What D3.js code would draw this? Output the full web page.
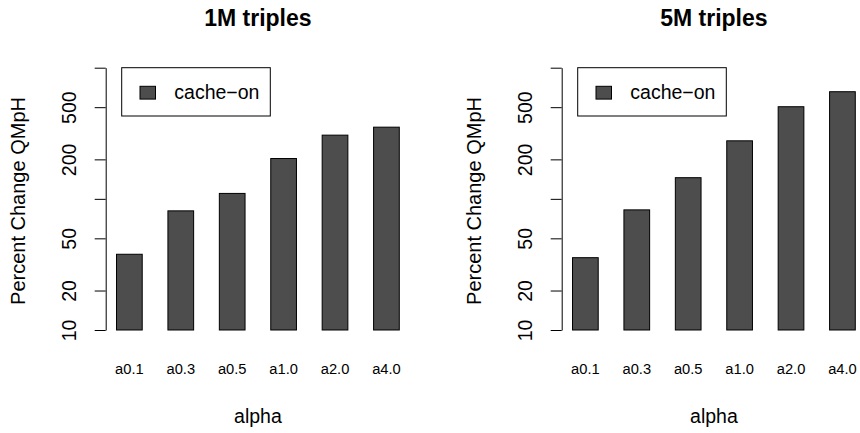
<!DOCTYPE html>
<html>
<head>
<meta charset="utf-8">
<script src="https://cdn.jsdelivr.net/npm/d3@7"></script>
<style>
  html, body { margin: 0; padding: 0; background: #fff; }
  svg { display: block; font-family: "Liberation Sans", Arial, Helvetica, sans-serif; }
</style>
</head>
<body>
<svg id="chart" width="860" height="433"></svg>
<script>
// ---- data ----
const categories = ["a0.1", "a0.3", "a0.5", "a1.0", "a2.0", "a4.0"];
const titles = ["1M triples", "5M triples"];
const values1M = [37.8, 81, 110, 203, 306, 352];
const values5M = [35.6, 82.4, 145, 277, 504, 656];
const yTicks = [10, 20, 50, 100, 200, 500, 1000];
const yTickLabels = ["10", "20", "50", "", "200", "500", ""];
const legendLabel = "cache\u2212on";
const xTitle = "alpha";
const yTitle = "Percent Change QMpH";

const panels = [
  { title: titles[0], values: values1M, dx: 0 },
  { title: titles[1], values: values5M, dx: 456 }
];

const svg = d3.select("#chart");
const plotLeft = 105.2, plotRight = 410.6, plotTop = 67.7, plotBottom = 330;

const y = d3.scaleLog().domain([10, 1000]).range([plotBottom, plotTop]);

panels.forEach(p => {
  const g = svg.append("g").attr("transform", `translate(${p.dx},0)`);
  const x = d3.scaleBand().domain(categories)
    .range([plotLeft, plotRight]).paddingInner(0.5).paddingOuter(0.22);

  // bars
  g.selectAll("rect.bar").data(p.values).join("rect")
    .attr("class", "bar")
    .attr("x", (d, i) => x(categories[i]))
    .attr("width", x.bandwidth())
    .attr("y", d => y(d))
    .attr("height", d => y(10) - y(d))
    .attr("fill", "#4d4d4d")
    .attr("stroke", "#000")
    .attr("stroke-width", 1);

  // y axis
  const yAxis = d3.axisLeft(y).tickValues(yTicks)
    .tickFormat((d, i) => yTickLabels[i]).tickSize(11).tickSizeOuter(0);
  const ya = g.append("g").attr("transform", `translate(${plotLeft + 0.5},0)`).call(yAxis);
  ya.select(".domain").attr("stroke", "#000").attr("stroke-width", 1);
  ya.selectAll(".tick line").attr("stroke", "#000");
  ya.selectAll(".tick text")
    .attr("font-size", 19.5)
    .attr("fill", "#000")
    .attr("x", null).attr("dy", null)
    .attr("text-anchor", "middle")
    .attr("transform", "translate(-29.5,0) rotate(-90)");

  // x labels
  g.selectAll("text.xlab").data(categories).join("text")
    .attr("class", "xlab")
    .attr("x", d => x(d) + x.bandwidth() / 2)
    .attr("y", 374.3)
    .attr("text-anchor", "middle")
    .attr("font-size", 14.7)
    .text(d => d);

  const cx = (plotLeft + plotRight) / 2;
  // title
  g.append("text").attr("x", cx).attr("y", 26)
    .attr("text-anchor", "middle").attr("font-size", 23).attr("font-weight", "bold")
    .text(p.title);
  // x title
  g.append("text").attr("x", cx).attr("y", 423)
    .attr("text-anchor", "middle").attr("font-size", 19.5)
    .text(xTitle);
  // y title
  g.append("text")
    .attr("transform", `translate(25,201) rotate(-90)`)
    .attr("text-anchor", "middle").attr("font-size", 20)
    .text(yTitle);

  // legend
  const lg = g.append("g");
  lg.append("rect").attr("x", 121.7).attr("y", 67.7).attr("width", 148.6).attr("height", 48.3)
    .attr("fill", "#fff").attr("stroke", "#000");
  lg.append("rect").attr("x", 140).attr("y", 86.3).attr("width", 15.5).attr("height", 12.8)
    .attr("fill", "#4d4d4d").attr("stroke", "#000");
  lg.append("text").attr("x", 174.3).attr("y", 99.2).attr("font-size", 19.5)
    .text(legendLabel);
});
</script>
</body>
</html>
